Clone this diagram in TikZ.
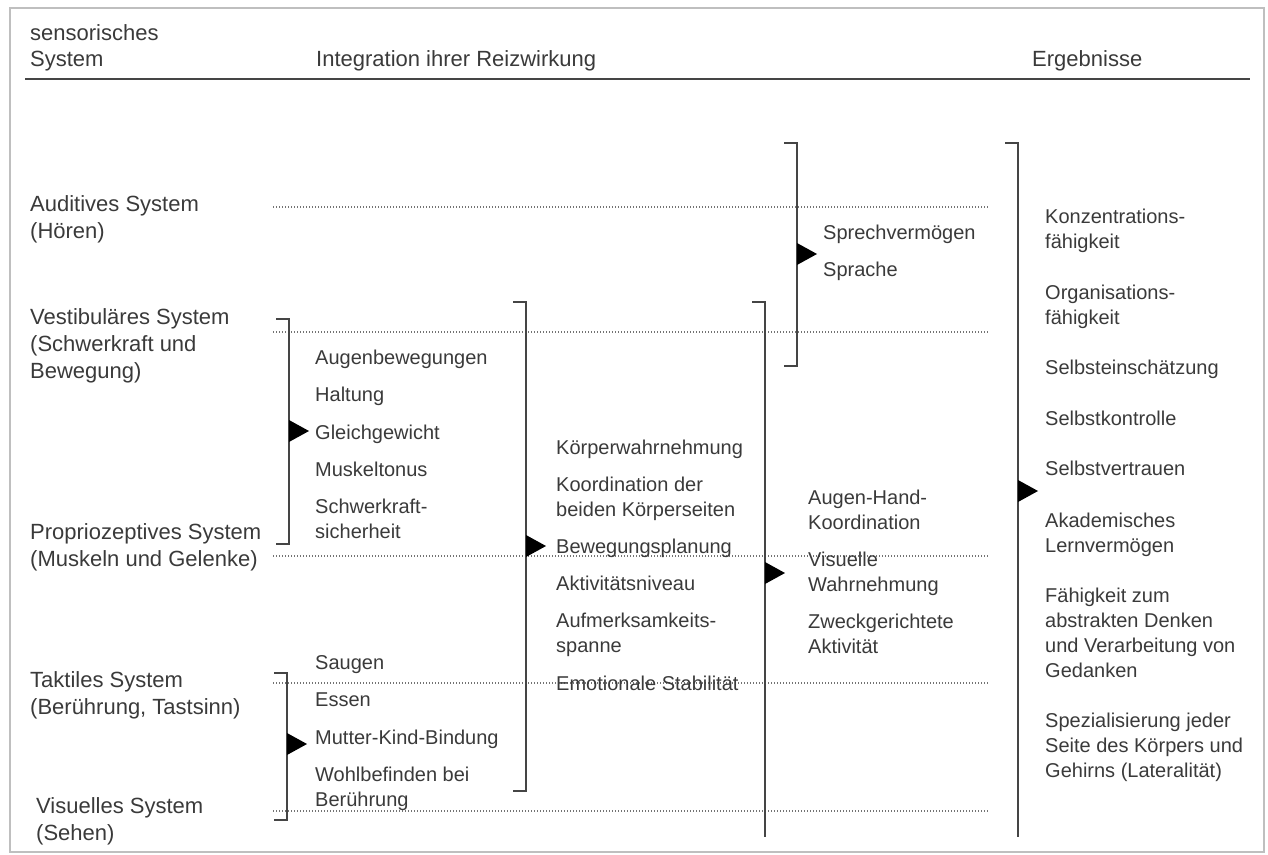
\documentclass[tikz,border=0pt]{standalone}
\usepackage{fontspec}
\setmainfont{Liberation Sans}
\usepackage{tikz}
\definecolor{schrift}{HTML}{3A3A3A}
\definecolor{linie}{HTML}{454545}
\tikzset{
  kopf/.style={anchor=base west, inner sep=0pt, align=left, text=schrift, font=\fontsize{22}{26}\selectfont},
  sys/.style={anchor=base west, inner sep=0pt, align=left, text=schrift, font=\fontsize{22}{27}\selectfont},
  eintrag/.style={anchor=base west, inner sep=0pt, align=left, text=schrift, font=\fontsize{20}{25}\selectfont},
  klammer/.style={draw=linie, line width=1.6pt},
  spitze/.style={fill=black},
  punktlinie/.style={draw=black!55, line width=1.3pt, dash pattern=on 1.3pt off 1.7pt},
}
% #1 = x, #2 = oben, #3 = unten, #4 = Hoehe der Spitze
\newcommand{\klam}[4]{%
  \draw[klammer] (#1-13,#2) -- (#1,#2) -- (#1,#3) -- (#1-13,#3);
  \fill[spitze] (#1,#4-11) -- (#1+20,#4) -- (#1,#4+11) -- cycle;}
\begin{document}
\begin{tikzpicture}[x=1pt, y=-1pt]
\useasboundingbox (0,0) rectangle (1268,854);
\draw[draw=black!25, line width=1.5pt] (10,8) rectangle (1264,852);

% mehrzeilige Knoten: base = Grundlinie der letzten Zeile
\node[kopf] (sens) at (30,66) {sensorisches\\System};
\node[kopf] (integ) at (316,66) {Integration ihrer Reizwirkung};
\node[kopf] (erg) at (1032,66) {Ergebnisse};
\draw[draw=linie, line width=1.8pt] (25,79) -- (1250,79);

\foreach \y in {207,332,556,683,811}
  \draw[punktlinie] (273,\y) -- (988,\y);

\node[sys] (aud) at (30,238) {Auditives System\\(Hören)};
\node[sys] (vest) at (30,378) {Vestibuläres System\\(Schwerkraft und\\Bewegung)};
\node[sys] (prop) at (30,566) {Propriozeptives System\\(Muskeln und Gelenke)};
\node[sys] (takt) at (30,714) {Taktiles System\\(Berührung, Tastsinn)};
\node[sys] (vis) at (36,840) {Visuelles System\\(Sehen)};

\klam{289}{319}{544}{431}
\node[eintrag] (augb) at (315,364) {Augenbewegungen};
\node[eintrag] (halt) at (315,401) {Haltung};
\node[eintrag] (gleich) at (315,439) {Gleichgewicht};
\node[eintrag] (tonus) at (315,476) {Muskeltonus};
\node[eintrag] (schwer) at (315,538) {Schwerkraft-\\sicherheit};

\klam{287}{673}{820}{744}
\node[eintrag] (saug) at (315,669) {Saugen};
\node[eintrag] (essen) at (315,706) {Essen};
\node[eintrag] (mutter) at (315,744) {Mutter-Kind-Bindung};
\node[eintrag] (wohl) at (315,806) {Wohlbefinden bei\\Berührung};

\klam{526}{302}{791}{546}
\node[eintrag] (koerp) at (556,454) {Körperwahrnehmung};
\node[eintrag] (koord) at (556,516) {Koordination der\\beiden Körperseiten};
\node[eintrag] (beweg) at (556,553) {Bewegungsplanung};
\node[eintrag] (aktiv) at (556,590) {Aktivitätsniveau};
\node[eintrag] (aufm) at (556,652) {Aufmerksamkeits-\\spanne};
\node[eintrag] (emot) at (556,690) {Emotionale Stabilität};

\draw[klammer] (752,302) -- (765,302) -- (765,837);
\fill[spitze] (765,562) -- (785,573) -- (765,584) -- cycle;
\node[eintrag] (ahk) at (808,529) {Augen-Hand-\\Koordination};
\node[eintrag] (viswahr) at (808,591) {Visuelle\\Wahrnehmung};
\node[eintrag] (zweck) at (808,653) {Zweckgerichtete\\Aktivität};

\klam{797}{143}{366}{254}
\node[eintrag] (sprech) at (823,239) {Sprechvermögen};
\node[eintrag] (sprache) at (823,276) {Sprache};

\draw[klammer] (1005,143) -- (1018,143) -- (1018,837);
\fill[spitze] (1018,480) -- (1038,491) -- (1018,502) -- cycle;
\node[eintrag] (konz) at (1045,248) {Konzentrations-\\fähigkeit};
\node[eintrag] (orga) at (1045,324) {Organisations-\\fähigkeit};
\node[eintrag] (einsch) at (1045,374) {Selbsteinschätzung};
\node[eintrag] (kontr) at (1045,425) {Selbstkontrolle};
\node[eintrag] (vertr) at (1045,475) {Selbstvertrauen};
\node[eintrag] (akad) at (1045,552) {Akademisches\\Lernvermögen};
\node[eintrag] (abstr) at (1045,677) {Fähigkeit zum\\abstrakten Denken\\und Verarbeitung von\\Gedanken};
\node[eintrag] (spez) at (1045,777) {Spezialisierung jeder\\Seite des Körpers und\\Gehirns (Lateralität)};
\end{tikzpicture}
\end{document}
